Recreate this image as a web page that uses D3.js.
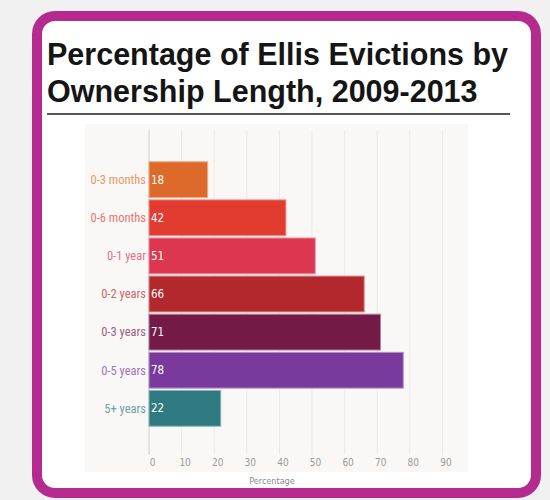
<!DOCTYPE html>
<meta charset="utf-8">
<style>
body { margin: 0; background: #f1f1f1; }
.title { font-family: "Liberation Sans", Arial, sans-serif; font-weight: bold; font-size: 30.5px; fill: #151515; }
.cat { font-family: "Liberation Sans Narrow", "Roboto Condensed", "DejaVu Sans Condensed", sans-serif; font-stretch: condensed; font-size: 12.5px; }
.val { font-family: "Liberation Sans Narrow", "DejaVu Sans Condensed", sans-serif; font-stretch: condensed; font-size: 11.5px; fill: #fff; }
.axis--x text { font-family: "Liberation Sans Narrow", "DejaVu Sans Condensed", sans-serif; font-stretch: condensed; font-size: 10px; fill: #9a9a9a; }
.axis--x path, .axis--x line { display: none; }
</style>
<body>
<script src="https://cdn.jsdelivr.net/npm/d3@7"></script>
<script>

var categories = ["0-3 months", "0-6 months", "0-1 year", "0-2 years", "0-3 years", "0-5 years", "5+ years"];
var values = [18, 42, 51, 66, 71, 78, 22];
var colors = ["#dd6a2b", "#e23c31", "#dc3651", "#b3282c", "#731a47", "#7a3a9d", "#2f7a80"];
var ticks = [0, 10, 20, 30, 40, 50, 60, 70, 80, 90];

var width = 550, height = 500;

var svg = d3.select("body").append("svg")
    .attr("width", width)
    .attr("height", height);

// card with purple rounded frame
svg.append("rect")
    .attr("x", 37).attr("y", 16)
    .attr("width", 499).attr("height", 477)
    .attr("rx", 18)
    .attr("fill", "#fff")
    .attr("stroke", "#b52a8e")
    .attr("stroke-width", 10);

svg.append("text").attr("class", "title").attr("x", 47).attr("y", 65)
    .text("Percentage of Ellis Evictions by");
svg.append("text").attr("class", "title").attr("x", 47).attr("y", 102)
    .text("Ownership Length, 2009-2013");

svg.append("line")
    .attr("x1", 47).attr("x2", 510)
    .attr("y1", 114).attr("y2", 114)
    .attr("stroke", "#555").attr("stroke-width", 2);

var x = d3.scaleLinear().domain([0, 98]).range([149, 468.5]);
var y = d3.scaleBand().domain(categories).range([161, 427]).paddingInner(0.06).paddingOuter(0.02);

// chart background
svg.append("rect")
    .attr("x", 85).attr("y", 124)
    .attr("width", 383).attr("height", 348)
    .attr("fill", "#faf8f7");

var g = svg.append("g");

g.selectAll(".grid")
    .data(ticks)
  .enter().append("line")
    .attr("class", "grid")
    .attr("x1", function(d) { return x(d); })
    .attr("x2", function(d) { return x(d); })
    .attr("y1", 130).attr("y2", 455)
    .attr("stroke", function(d) { return d === 0 ? "#cfcfcf" : "#ebe8e6"; })
    .attr("stroke-width", 1);

var data = categories.map(function(c, i) { return {cat: c, value: values[i], color: colors[i]}; });

g.selectAll(".bar")
    .data(data)
  .enter().append("rect")
    .attr("class", "bar")
    .attr("x", x(0))
    .attr("y", function(d) { return y(d.cat); })
    .attr("width", function(d) { return x(d.value) - x(0); })
    .attr("height", y.bandwidth())
    .attr("fill", function(d) { return d.color; })
    .attr("stroke", function(d) { return d3.interpolateRgb(d.color, "#fff")(0.45); })
    .attr("stroke-width", 1);

g.selectAll(".val")
    .data(data)
  .enter().append("text")
    .attr("class", "val")
    .attr("x", x(0) + 2)
    .attr("y", function(d) { return y(d.cat) + y.bandwidth() / 2; })
    .attr("dy", "0.35em")
    .text(function(d) { return d.value; });

g.selectAll(".cat")
    .data(data)
  .enter().append("text")
    .attr("class", "cat")
    .attr("x", x(0) - 3)
    .attr("y", function(d) { return y(d.cat) + y.bandwidth() / 2; })
    .attr("dy", "0.35em")
    .attr("text-anchor", "end")
    .attr("fill", function(d) { return d3.interpolateRgb(d.color, "#fff")(0.3); })
    .text(function(d) { return d.cat; });

g.append("g")
    .attr("class", "axis axis--x")
    .attr("transform", "translate(3,455)")
    .call(d3.axisBottom(x).tickValues(ticks).tickSize(0).tickPadding(4));

svg.append("text")
    .attr("x", 272).attr("y", 484)
    .attr("text-anchor", "middle")
    .style("font-family", "'Liberation Sans Narrow', 'DejaVu Sans Condensed', sans-serif")
    .style("font-stretch", "condensed")
    .style("font-size", "9px")
    .attr("fill", "#8a8a8a")
    .text("Percentage");

</script>
</body>
